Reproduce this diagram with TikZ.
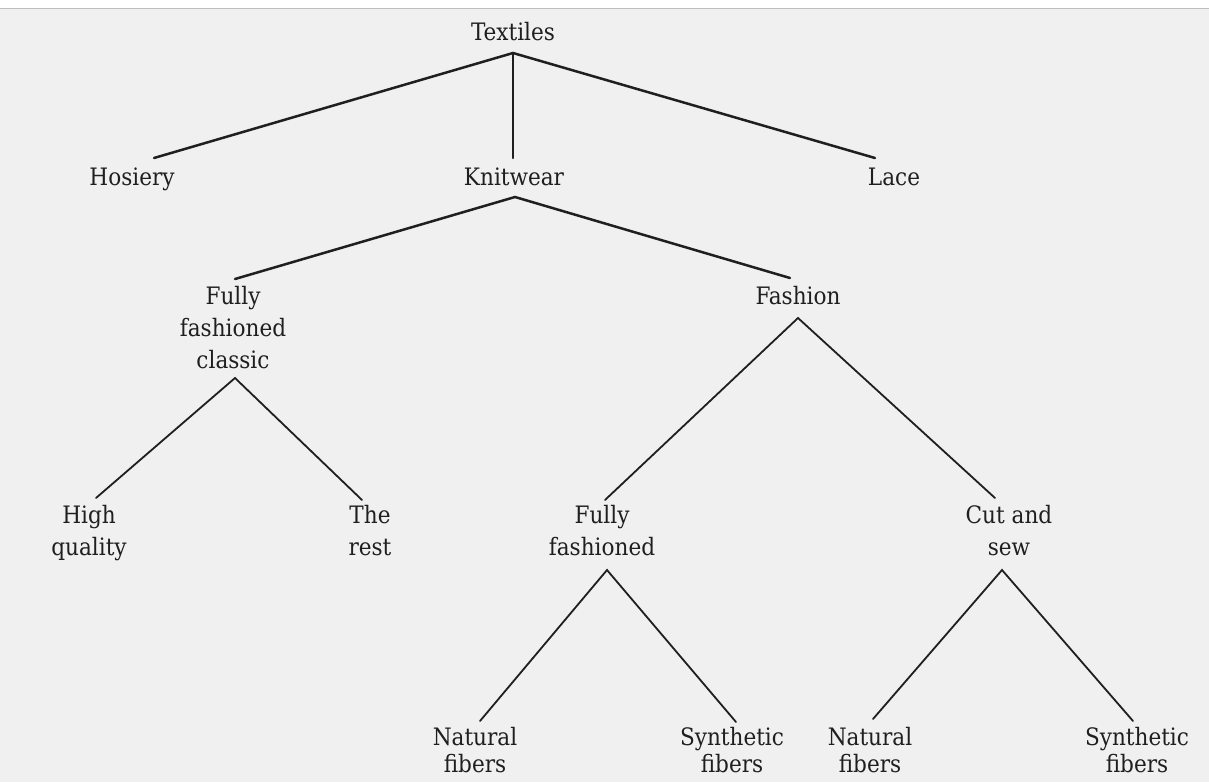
\documentclass[tikz,border=0pt]{standalone}
\usepackage{fontspec}
\setmainfont{DejaVu Serif Condensed}
\begin{document}
\begin{tikzpicture}[x=1pt,y=-1pt,
  lbl/.style={anchor=base,inner sep=0pt,align=center,text=black!88,
    font=\fontsize{24}{32}\selectfont},
  low lbl/.style={lbl,font=\fontsize{24}{27}\selectfont},
  thick br/.style={draw=black!88,line width=2.5pt,line cap=round},
  thin br/.style={draw=black!88,line width=1.8pt,line cap=round}]
\useasboundingbox (0,0) rectangle (1209,782);
\clip (0,0) rectangle (1209,782);
\fill[white] (0,0) rectangle (1209,9);
\fill[black!6] (0,9) rectangle (1209,782);
\draw[black!25,line width=1pt] (0,8.5) -- (1209,8.5);
% nodes (anchor = baseline of the last line)
\node[lbl] (tex) at (513,40) {Textiles};
\node[lbl] (hos) at (132,185) {Hosiery};
\node[lbl] (kni) at (514,185) {Knitwear};
\node[lbl] (lac) at (894,185) {Lace};
\node[lbl] (ffc) at (233,368) {Fully\\fashioned\\classic};
\node[lbl] (fas) at (798,304) {Fashion};
\node[lbl] (hq) at (89,555) {High\\quality};
\node[lbl] (rest) at (370,555) {The\\rest};
\node[lbl] (ff) at (602,555) {Fully\\fashioned};
\node[lbl] (cs) at (1009,555) {Cut and\\sew};
\node[low lbl] (nf1) at (475,772) {Natural\\fibers};
\node[low lbl] (sf1) at (732,772) {Synthetic\\fibers};
\node[low lbl] (nf2) at (870,772) {Natural\\fibers};
\node[low lbl] (sf2) at (1137,772) {Synthetic\\fibers};
% connectors
\draw[thick br] ([xshift=22pt,yshift=27pt]hos.base) -- ([yshift=-13pt]tex.base) -- ([xshift=-19pt,yshift=27pt]lac.base);
\draw[thick br] ([yshift=-13pt]tex.base) -- ([xshift=-1pt,yshift=27pt]kni.base);
\draw[thick br] ([xshift=2pt,yshift=89pt]ffc.base) -- ([xshift=1pt,yshift=-12pt]kni.base) -- ([xshift=-8pt,yshift=26pt]fas.base);
\draw[thin br] ([xshift=7pt,yshift=57pt]hq.base) -- ([xshift=2pt,yshift=-10pt]ffc.base) -- ([xshift=-8pt,yshift=55pt]rest.base);
\draw[thin br] ([xshift=3pt,yshift=55pt]ff.base) -- ([yshift=-14pt]fas.base) -- ([xshift=-14pt,yshift=57pt]cs.base);
\draw[thin br] ([xshift=5pt,yshift=51pt]nf1.base) -- ([xshift=5pt,yshift=-15pt]ff.base) -- ([xshift=4pt,yshift=50pt]sf1.base);
\draw[thin br] ([xshift=3pt,yshift=53pt]nf2.base) -- ([xshift=-7pt,yshift=-15pt]cs.base) -- ([xshift=-4pt,yshift=51pt]sf2.base);
\end{tikzpicture}
\end{document}
